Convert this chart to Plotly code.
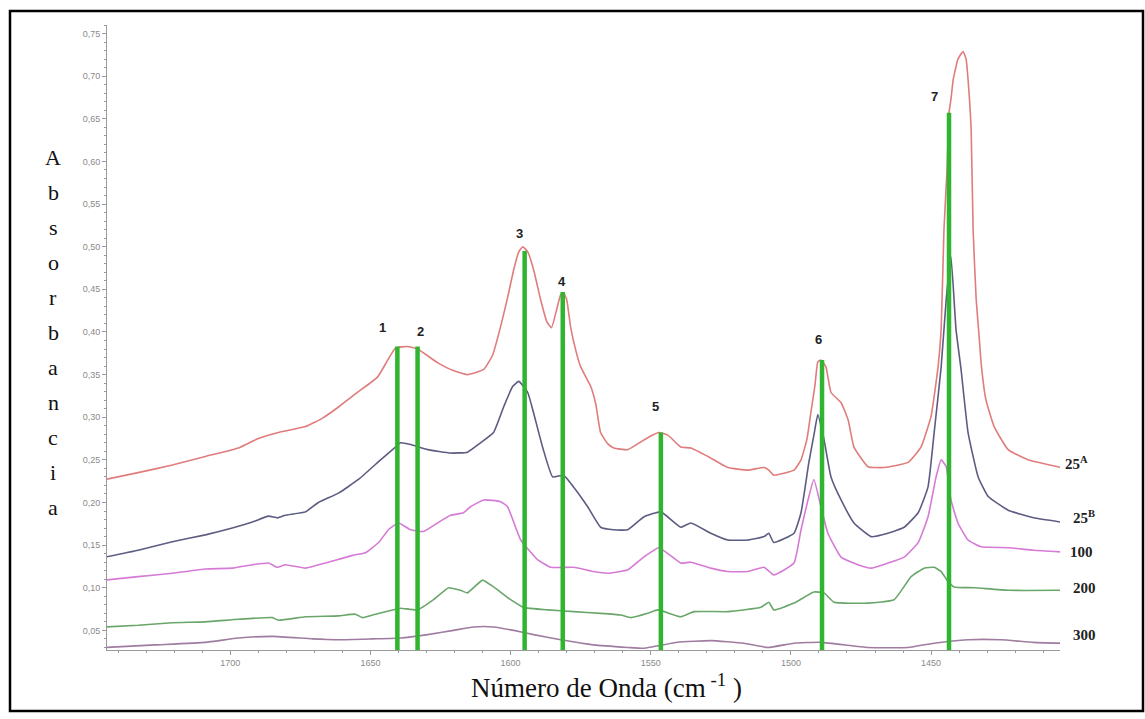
import plotly.graph_objects as go

# ---------------- data ----------------
wn_25A = [1744.6, 1732.9, 1720.7, 1708.9, 1697.1, 1690.0, 1682.9, 1673.2, 1667.1, 1661.4,
          1654.3, 1647.5, 1641.1, 1636.8, 1633.2, 1626.1, 1620.7, 1615.4, 1609.6, 1606.4,
          1603.6, 1601.1, 1598.9, 1597.1, 1595.7, 1593.9, 1591.8, 1589.3, 1587.1, 1585.4,
          1583.6, 1582.1, 1581.1, 1580.0, 1578.6, 1576.8, 1575.0, 1571.4, 1569.6, 1567.9,
          1565.4, 1563.2, 1558.2, 1553.6, 1550.0, 1547.1, 1543.9, 1539.3, 1535.7, 1529.6,
          1522.5, 1515.4, 1509.6, 1507.9, 1506.1, 1498.9, 1496.4, 1494.3, 1492.9, 1491.4,
          1490.4, 1489.3, 1487.5, 1485.7, 1482.1, 1479.6, 1477.5, 1472.5, 1466.8, 1458.2,
          1453.6, 1450.0, 1447.5, 1446.4, 1445.4, 1444.3, 1443.6, 1442.9, 1442.1, 1440.4,
          1438.6, 1437.5, 1436.8, 1435.7, 1435.0, 1433.9, 1432.9, 1432.1, 1430.4, 1427.5,
          1422.5, 1415.4, 1403.6]
ab_25A = [0.227, 0.235, 0.244, 0.254, 0.264, 0.275, 0.282, 0.289, 0.299, 0.312,
          0.330, 0.347, 0.381, 0.383, 0.380, 0.364, 0.355, 0.350, 0.356, 0.373,
          0.406, 0.440, 0.473, 0.494, 0.500, 0.494, 0.473, 0.438, 0.412, 0.405,
          0.426, 0.444, 0.446, 0.438, 0.406, 0.379, 0.359, 0.336, 0.315, 0.282,
          0.269, 0.264, 0.262, 0.271, 0.278, 0.282, 0.279, 0.265, 0.264, 0.254,
          0.241, 0.238, 0.241, 0.238, 0.232, 0.238, 0.250, 0.274, 0.305, 0.338,
          0.365, 0.367, 0.359, 0.329, 0.317, 0.297, 0.265, 0.242, 0.241, 0.247,
          0.265, 0.301, 0.359, 0.403, 0.520, 0.590, 0.657, 0.673, 0.696, 0.720,
          0.729, 0.720, 0.696, 0.637, 0.520, 0.438, 0.397, 0.362, 0.320, 0.289,
          0.262, 0.250, 0.241]

wn_25B = [1744.6, 1732.9, 1720.7, 1708.9, 1699.3, 1692.1, 1686.4, 1683.2, 1680.4, 1673.2,
          1668.6, 1661.4, 1654.3, 1646.4, 1641.1, 1639.3, 1635.7, 1629.6, 1621.4, 1615.4,
          1610.7, 1606.1, 1602.5, 1599.3, 1597.1, 1593.9, 1591.8, 1588.6, 1585.0, 1581.1,
          1577.5, 1572.5, 1567.9, 1563.2, 1558.2, 1552.5, 1546.4, 1539.3, 1535.7, 1528.6,
          1522.5, 1515.4, 1509.6, 1507.9, 1506.1, 1498.9, 1496.4, 1493.6, 1491.8, 1490.4,
          1488.2, 1485.7, 1482.1, 1477.5, 1471.4, 1465.4, 1459.6, 1454.6, 1451.1, 1448.9,
          1446.4, 1444.6, 1442.9, 1441.1, 1439.3, 1436.8, 1433.2, 1429.6, 1422.5, 1413.4,
          1403.6]
ab_25B = [0.136, 0.144, 0.154, 0.162, 0.170, 0.177, 0.184, 0.182, 0.185, 0.189,
          0.200, 0.211, 0.227, 0.250, 0.265, 0.270, 0.268, 0.262, 0.258, 0.259,
          0.270, 0.282, 0.312, 0.336, 0.342, 0.329, 0.305, 0.265, 0.230, 0.232,
          0.218, 0.195, 0.171, 0.168, 0.168, 0.183, 0.189, 0.171, 0.176, 0.164,
          0.156, 0.156, 0.160, 0.164, 0.153, 0.164, 0.188, 0.247, 0.279, 0.303,
          0.274, 0.230, 0.203, 0.176, 0.160, 0.164, 0.171, 0.188, 0.218, 0.282,
          0.359, 0.438, 0.488, 0.403, 0.356, 0.282, 0.230, 0.207, 0.191, 0.182,
          0.177]

wn_100 = [1744.6, 1732.9, 1720.7, 1708.9, 1699.3, 1692.1, 1686.4, 1683.2, 1680.4, 1673.2,
          1666.1, 1656.4, 1651.8, 1647.1, 1643.6, 1640.0, 1635.7, 1631.1, 1626.1, 1621.4,
          1616.8, 1614.3, 1609.6, 1603.6, 1601.1, 1596.4, 1590.4, 1585.7, 1577.5, 1570.4,
          1565.4, 1558.2, 1552.5, 1547.1, 1539.3, 1535.7, 1528.6, 1522.5, 1515.4, 1509.6,
          1506.1, 1498.9, 1496.4, 1493.9, 1491.8, 1489.3, 1486.8, 1482.1, 1476.1, 1471.4,
          1465.4, 1459.6, 1454.6, 1451.1, 1448.2, 1446.4, 1444.6, 1442.9, 1440.4, 1436.8,
          1432.1, 1422.5, 1413.4, 1403.6]
ab_100 = [0.109, 0.113, 0.117, 0.122, 0.123, 0.127, 0.129, 0.124, 0.127, 0.123,
          0.129, 0.138, 0.141, 0.153, 0.168, 0.176, 0.168, 0.166, 0.176, 0.185,
          0.188, 0.195, 0.203, 0.201, 0.195, 0.156, 0.133, 0.124, 0.124, 0.119,
          0.117, 0.121, 0.136, 0.147, 0.129, 0.130, 0.123, 0.119, 0.119, 0.124,
          0.115, 0.129, 0.168, 0.203, 0.227, 0.195, 0.164, 0.136, 0.127, 0.123,
          0.129, 0.136, 0.153, 0.183, 0.230, 0.250, 0.242, 0.203, 0.176, 0.156,
          0.148, 0.147, 0.144, 0.142]

wn_200 = [1744.6, 1732.9, 1720.7, 1708.9, 1697.1, 1685.0, 1682.9, 1673.2, 1661.4, 1655.4,
          1652.9, 1649.3, 1642.1, 1639.3, 1633.2, 1627.5, 1622.1, 1617.9, 1615.4, 1610.0,
          1606.1, 1600.0, 1595.4, 1586.8, 1577.5, 1567.9, 1560.7, 1557.1, 1551.1, 1547.5,
          1539.3, 1534.6, 1522.5, 1510.7, 1507.9, 1506.1, 1498.9, 1491.8, 1488.2, 1484.6,
          1472.5, 1463.2, 1457.1, 1452.5, 1448.9, 1446.4, 1443.9, 1441.8, 1434.6, 1422.5,
          1403.6]
ab_200 = [0.054, 0.056, 0.059, 0.060, 0.063, 0.065, 0.062, 0.066, 0.067, 0.069,
          0.065, 0.068, 0.074, 0.076, 0.074, 0.086, 0.100, 0.097, 0.094, 0.109,
          0.101, 0.086, 0.077, 0.074, 0.072, 0.070, 0.068, 0.065, 0.070, 0.074,
          0.066, 0.072, 0.072, 0.077, 0.083, 0.074, 0.082, 0.095, 0.094, 0.083,
          0.082, 0.086, 0.113, 0.123, 0.124, 0.119, 0.107, 0.101, 0.100, 0.097,
          0.097]

wn_300 = [1744.6, 1726.8, 1708.9, 1697.1, 1685.0, 1670.7, 1661.4, 1649.3, 1639.3, 1629.6,
          1620.4, 1613.2, 1606.1, 1598.9, 1591.8, 1582.1, 1570.4, 1558.2, 1552.5, 1540.4,
          1528.6, 1516.8, 1508.2, 1498.9, 1489.3, 1472.5, 1458.2, 1448.9, 1436.8, 1425.1,
          1413.4, 1403.6]
ab_300 = [0.030, 0.033, 0.036, 0.041, 0.043, 0.040, 0.039, 0.040, 0.041, 0.045,
          0.050, 0.054, 0.054, 0.050, 0.045, 0.039, 0.033, 0.030, 0.029, 0.036,
          0.038, 0.035, 0.030, 0.035, 0.036, 0.030, 0.030, 0.035, 0.039, 0.039,
          0.036, 0.035]

# peak markers (green vertical lines)
peak_labels = ["1", "2", "3", "4", "5", "6", "7"]
peak_wn = [1640.4, 1633.2, 1595.0, 1581.4, 1546.4, 1488.9, 1443.6]
peak_top = [0.383, 0.383, 0.495, 0.447, 0.282, 0.367, 0.657]
label_wn = [1645.7, 1632.1, 1596.8, 1581.8, 1548.2, 1490.0, 1448.9]
label_ab = [0.405, 0.400, 0.515, 0.459, 0.313, 0.391, 0.676]

# series names at right end
series_names = ["25<sup>A</sup>", "25<sup>B</sup>", "100", "200", "300"]
name_ab = [0.2465, 0.183, 0.142, 0.100, 0.0446]

y_tick_vals = [0.05, 0.10, 0.15, 0.20, 0.25, 0.30, 0.35, 0.40, 0.45, 0.50, 0.55, 0.60, 0.65, 0.70, 0.75]
x_tick_vals = [1700, 1650, 1600, 1550, 1500, 1450]

x_title = "Número de Onda (cm<sup> -1</sup> )"
y_title_letters = list("Absorbancia")

# ---------------- figure ----------------
W, H = 1145, 719
L, R, T, B = 107, 1060, 25, 650   # plot area in pixels


def px_x(px):
    return (px - L) / (R - L)


def px_y(py):
    return (B - py) / (B - T)


colors = ["#e07c7c", "#5c5c82", "#d67ad6", "#6aa66a", "#a07ca0"]
series = [(wn_25A, ab_25A), (wn_25B, ab_25B), (wn_100, ab_100), (wn_200, ab_200), (wn_300, ab_300)]

fig = go.Figure()
for (xs, ys), c in zip(series, colors):
    fig.add_trace(go.Scatter(x=xs, y=ys, mode="lines",
                             line=dict(color=c, width=1.6, shape="spline", smoothing=0.4),
                             hoverinfo="skip", showlegend=False))

ymin = 0.027
gx, gy = [], []
for w, t in zip(peak_wn, peak_top):
    gx += [w, w, None]
    gy += [ymin, t, None]
fig.add_trace(go.Scatter(x=gx, y=gy, mode="lines",
                         line=dict(color="#2fb52f", width=4.5),
                         hoverinfo="skip", showlegend=False))

annotations = []
for t, w, a in zip(peak_labels, label_wn, label_ab):
    annotations.append(dict(x=w, y=a, xref="x", yref="y", text="<b>%s</b>" % t,
                            xanchor="center", yanchor="middle", showarrow=False,
                            font=dict(family="Liberation Sans", size=13, color="#222")))
name_px = [1063, 1071, 1068, 1071, 1071]
for t, a, p in zip(series_names, name_ab, name_px):
    annotations.append(dict(x=px_x(p), y=a, xref="paper", yref="y", text="<b>%s</b>" % t,
                            xanchor="left", yanchor="middle", showarrow=False,
                            font=dict(family="Liberation Serif", size=15, color="#222")))
for i, ch in enumerate(y_title_letters):
    annotations.append(dict(x=px_x(53), y=px_y(157 + 35 * i), xref="paper", yref="paper", text=ch,
                            xanchor="center", yanchor="middle", showarrow=False,
                            font=dict(family="Liberation Serif", size=22, color="#111")))
annotations.append(dict(x=px_x(606), y=px_y(686), xref="paper", yref="paper", text=x_title,
                        xanchor="center", yanchor="middle", showarrow=False,
                        font=dict(family="Liberation Serif", size=27, color="#111")))

fig.update_layout(
    width=W, height=H,
    margin=dict(l=L, r=W - R, t=T, b=H - B),
    paper_bgcolor="white", plot_bgcolor="white",
    separators=",.",
    annotations=annotations,
    shapes=[dict(type="rect", xref="paper", yref="paper",
                 x0=px_x(10), x1=px_x(1143), y0=px_y(711), y1=px_y(11),
                 line=dict(color="black", width=2.5), layer="below")],
    xaxis=dict(range=[1744, 1404], tickvals=x_tick_vals, tickformat="d",
               showgrid=False, zeroline=False, showline=True, linecolor="#9a9a9a", linewidth=1,
               ticks="outside", ticklen=4, tickcolor="#9a9a9a",
               tickfont=dict(family="Liberation Sans", size=9, color="#8a8a8a"),
               minor=dict(dtick=10, ticks="outside", ticklen=2, tickcolor="#9a9a9a")),
    yaxis=dict(range=[ymin, 0.76], tickvals=y_tick_vals, tickformat=".2f",
               showgrid=False, zeroline=False, showline=True, linecolor="#9a9a9a", linewidth=1,
               ticks="outside", ticklen=4, tickcolor="#9a9a9a",
               tickfont=dict(family="Liberation Sans", size=9, color="#8a8a8a"),
               minor=dict(dtick=0.01, tick0=0.0, ticks="outside", ticklen=2, tickcolor="#9a9a9a")),
)

fig.write_html("out.html")
